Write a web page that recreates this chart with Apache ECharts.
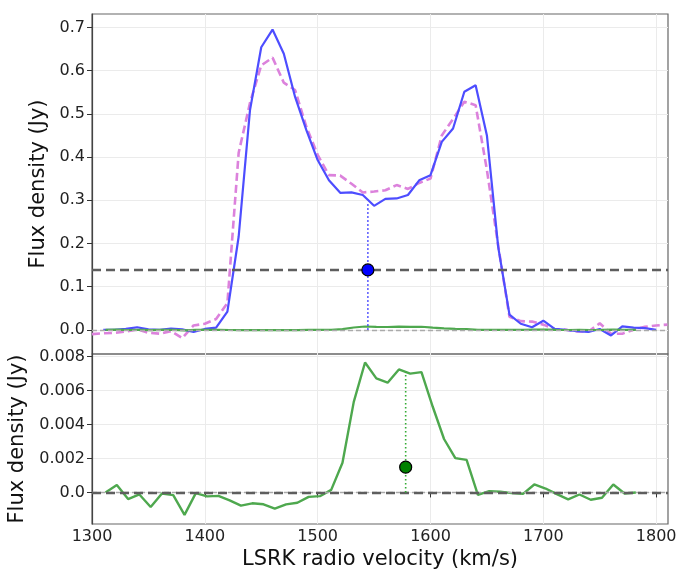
<!DOCTYPE html>
<html>
<head>
<meta charset="utf-8">
<script src="https://cdn.jsdelivr.net/npm/echarts@6/dist/echarts.min.js"></script>
<style>
html,body{margin:0;padding:0;background:#fff;}
#chart{width:687px;height:571px;}
</style>
</head>
<body>
<div id="chart"></div>
<script>
// ---- data ----
var blueVel = [1310,1320,1330,1340,1350,1360,1370,1380,1390,1400,1410,1420,1430,1440,1450,1460,1470,1480,1490,1500,
  1510,1520,1530,1540,1550,1560,1570,1580,1590,1600,1610,1620,1630,1640,1650,1660,1670,1680,1690,1700,
  1710,1720,1730,1740,1750,1760,1770,1780,1790,1800];
var blueFlux = [0.000,0.000,0.002,0.006,0.001,0.000,0.003,0.001,-0.005,0.002,0.005,0.042,0.216,0.508,0.654,0.695,0.639,0.539,0.462,0.393,
  0.346,0.317,0.318,0.312,0.287,0.303,0.304,0.312,0.346,0.358,0.435,0.466,0.551,0.566,0.450,0.192,0.035,0.014,0.006,0.021,
  0.002,0.000,-0.003,-0.005,0.002,-0.013,0.008,0.005,0.004,0.000];
var magVel = [1300,1310,1320,1330,1340,1350,1360,1370,1380,1390,1400,1410,1420,1430,1440,1450,1460,1470,1480,1490,
  1500,1510,1520,1530,1540,1550,1560,1570,1580,1590,1600,1610,1620,1630,1640,1650,1660,1670,1680,1690,
  1700,1710,1720,1730,1740,1750,1760,1770,1780,1790,1800,1810];
var magFlux = [-0.010,-0.008,-0.007,-0.004,0.001,-0.007,-0.009,-0.003,-0.019,0.010,0.014,0.025,0.062,0.410,0.525,0.612,0.630,0.572,0.555,0.470,
  0.405,0.358,0.357,0.338,0.318,0.320,0.323,0.335,0.326,0.340,0.350,0.450,0.488,0.528,0.520,0.370,0.195,0.030,0.020,0.019,
  0.012,0.002,0.000,-0.004,-0.004,0.015,-0.009,-0.009,0.000,0.007,0.010,0.012];
var greenVel = [1312,1322,1332,1342,1352,1362,1372,1382,1392,1402,1412,1422,1432,1442,1452,1462,1472,1482,1492,1502,
  1512,1522,1532,1542,1552,1562,1572,1582,1592,1602,1612,1622,1632,1642,1652,1662,1672,1682,1692,1702,
  1712,1722,1732,1742,1752,1762,1772,1782];
var greenFlux = [0.00000,0.00044,-0.00039,-0.00012,-0.00086,-0.00006,-0.00016,-0.00132,-0.00004,-0.00023,-0.00020,-0.00047,-0.00078,-0.00064,-0.00070,-0.00096,-0.00070,-0.00061,-0.00026,-0.00022,
  0.00015,0.00175,0.00534,0.00766,0.00672,0.00647,0.00725,0.00700,0.00709,0.00505,0.00315,0.00202,0.00192,-0.00014,0.00008,0.00004,-0.00004,-0.00008,0.00047,0.00023,
  -0.00010,-0.00041,-0.00012,-0.00043,-0.00031,0.00047,-0.00006,0.00000];
var blueMarker = [1544.5, 0.1386];
var blueDropTop = 0.292;
var greenMarker = [1578, 0.00149];
var greenDropTop = 0.0071;
var xTicks = [1300,1400,1500,1600,1700,1800];
var yTicksTop = [0,0.1,0.2,0.3,0.4,0.5,0.6,0.7];
var yTicksBottom = [0,0.002,0.004,0.006,0.008];

function pairs(xs, ys){ return xs.map(function(x,i){ return [x, ys[i]]; }); }

var FONT = 'DejaVu Sans';
var BLUE = '#4d4dff', MAG = '#dc82dc', GREEN = '#4ea84e';

var chart = echarts.init(document.getElementById('chart'), null, {renderer:'canvas'});

function xAxisCfg(idx, showLabels){
  return {
    type:'value', gridIndex: idx, min:1300, max:1810.5,
    name: showLabels ? 'LSRK radio velocity (km/s)' : '',
    nameLocation:'middle', nameGap: 25,
    nameTextStyle:{fontFamily:FONT,fontSize:21,color:'#111'},
    axisLine:{show:false},
    axisTick:{show:showLabels, customValues:xTicks, length:5, lineStyle:{color:'#333',width:1}},
    axisLabel:{show:showLabels, customValues:xTicks, fontFamily:FONT, fontSize:16, color:'#222', margin:5,
      formatter:function(v){ return String(Math.round(v)); }},
    splitLine:{show:true, lineStyle:{color:'#ebebeb', width:1}}
  };
}
function yAxisCfg(idx, min, max, ticks, fmt, gap){
  return {
    type:'value', gridIndex: idx, min:min, max:max,
    name:'Flux density (Jy)', nameLocation:'middle', nameGap:gap, nameRotate:90,
    nameTextStyle:{fontFamily:FONT,fontSize:21,color:'#111'},
    axisLine:{show:true, lineStyle:{color:'#444', width:1.2}},
    axisTick:{show:true, customValues:ticks, length:5, lineStyle:{color:'#333',width:1}},
    axisLabel:{customValues:ticks, fontFamily:FONT, fontSize:16, color:'#222', margin:7, formatter:fmt},
    splitLine:{show:true, lineStyle:{color:'#ebebeb', width:1}}
  };
}

function hline(y, color, width, dash){
  return {yAxis:y, lineStyle:{color:color, width:width, type:dash}};
}

var option = {
  animation:false,
  backgroundColor:'#fff',
  grid:[
    {left:92, top:14, width:576, height:340, show:true, borderColor:'#666', borderWidth:1.2, backgroundColor:'transparent', containLabel:false, outerBoundsMode:'none'},
    {left:92, top:354, width:576, height:170, show:true, borderColor:'#666', borderWidth:1.2, backgroundColor:'transparent', containLabel:false, outerBoundsMode:'none'}
  ],
  xAxis:[ xAxisCfg(0,false), xAxisCfg(1,true) ],
  yAxis:[
    yAxisCfg(0, -0.056, 0.731, yTicksTop, function(v){ return v.toFixed(1); }, 38),
    yAxisCfg(1, -0.00186, 0.00816, yTicksBottom, function(v){ return v===0 ? '0.0' : v.toFixed(3); }, 62)
  ],
  series:[
    {type:'line', xAxisIndex:0, yAxisIndex:0, data:pairs(magVel, magFlux), showSymbol:false, symbol:'none',
     lineStyle:{color:MAG, width:2.6, type:[8,4]}, z:2,
     markLine:{silent:true, symbol:'none', label:{show:false},
       data:[hline(0,'#aaaaaa',1.3,[5,3]), hline(blueMarker[1],'#5e5e5e',2.3,[9,5])]}},
    {type:'line', xAxisIndex:0, yAxisIndex:0, data:pairs(blueVel, blueFlux), showSymbol:false, symbol:'none',
     lineStyle:{color:BLUE, width:2.2}, z:3},
    {type:'line', xAxisIndex:0, yAxisIndex:0, data:pairs(greenVel, greenFlux), showSymbol:false, symbol:'none',
     lineStyle:{color:GREEN, width:2.2}, z:4},
    {type:'line', xAxisIndex:0, yAxisIndex:0, data:[[blueMarker[0],0],[blueMarker[0],blueDropTop]], showSymbol:false, symbol:'none',
     lineStyle:{color:'#2f2fff', width:1.6, type:[1.5,2.5]}, z:5},
    {type:'scatter', xAxisIndex:0, yAxisIndex:0, data:[blueMarker], symbolSize:12,
     itemStyle:{color:'#0000ff', borderColor:'#000', borderWidth:1.2, opacity:1}, z:6},

    {type:'line', xAxisIndex:1, yAxisIndex:1, data:pairs(greenVel, greenFlux), showSymbol:false, symbol:'none',
     lineStyle:{color:GREEN, width:2.4}, z:3,
     markLine:{silent:true, symbol:'none', label:{show:false},
       data:[hline(0,'#aaaaaa',1.3,[5,3]), hline(greenMarker[1],'#5e5e5e',2.3,[9,5])]}},
    {type:'line', xAxisIndex:1, yAxisIndex:1, data:[[greenMarker[0],0],[greenMarker[0],greenDropTop]], showSymbol:false, symbol:'none',
     lineStyle:{color:'#33aa33', width:1.6, type:[1.5,2.5]}, z:5},
    {type:'scatter', xAxisIndex:1, yAxisIndex:1, data:[greenMarker], symbolSize:12,
     itemStyle:{color:'#008000', borderColor:'#000', borderWidth:1.2, opacity:1}, z:6}
  ]
};
chart.setOption(option);
</script>
</body>
</html>
